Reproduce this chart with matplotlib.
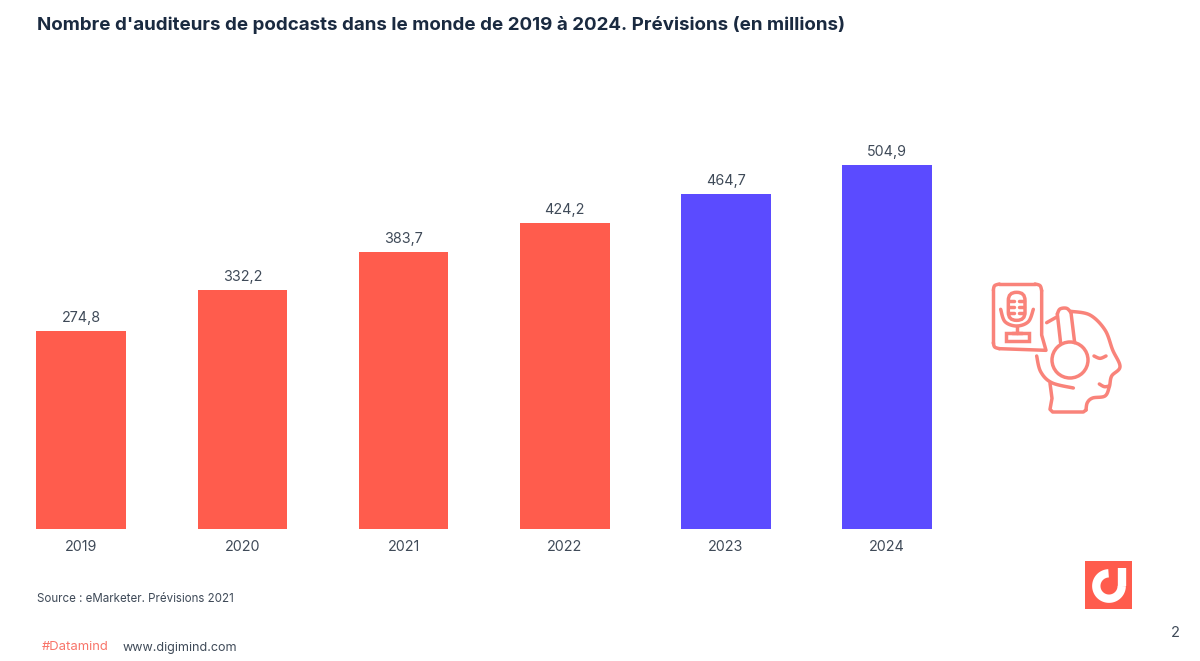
import numpy as np
import matplotlib
matplotlib.use("Agg")
import matplotlib.pyplot as plt
from matplotlib.patches import Circle, FancyBboxPatch, Rectangle

years = ["2019", "2020", "2021", "2022", "2023", "2024"]
values = [274.8, 332.2, 383.7, 424.2, 464.7, 504.9]
labels = ["274,8", "332,2", "383,7", "424,2", "464,7", "504,9"]
colors = ["#FF5C4D"] * 4 + ["#5B4BFF"] * 2
TITLE = "Nombre d'auditeurs de podcasts dans le monde de 2019 à 2024. Prévisions (en millions)"
SOURCE = "Source : eMarketer. Prévisions 2021"

W, H = 1200, 661
DARK = "#1A2A40"
GREY = "#3F4A58"
plt.rcParams["font.family"] = ["Inter", "DejaVu Sans"]
fig = plt.figure(figsize=(W / 100, H / 100), dpi=100, facecolor="white")

ax = fig.add_axes([0, 0, 1, 1])
px_per_unit = 364 / 504.9
STEP = 161.2
C0 = 81.2
ax.set_xlim(-C0 / STEP, (W - C0) / STEP)
ax.set_ylim(-(H - 529) / px_per_unit, 529 / px_per_unit)
ax.axis("off")
ax.bar(range(len(values)), values, width=89.6 / STEP, color=colors, linewidth=0)
for i, (v, l, y) in enumerate(zip(values, labels, years)):
    ax.annotate(l, (i, v), xytext=(0, 6), textcoords="offset pixels", ha="center", va="bottom",
                fontsize=10.3, color=GREY)
    ax.annotate(y, (i, 0), xytext=(0, -11), textcoords="offset pixels", ha="center", va="top",
                fontsize=10.3, color=GREY)

o = fig.add_axes([0, 0, 1, 1], facecolor="none")
o.set_xlim(0, W)
o.set_ylim(H, 0)
o.axis("off")
o.text(37, 25.5, TITLE, fontsize=13.5, fontweight="bold", color=DARK, va="center", ha="left")
o.text(37, 599.5, SOURCE, fontsize=8.3, color=GREY, va="center")
o.text(42, 647.5, "#Datamind", fontsize=9.4, color="#F8756A", va="center")
o.text(123, 647.5, "www.digimind.com", fontsize=9.0, color=GREY, va="center")
o.text(1175, 633, "2", fontsize=10.5, color=GREY, va="center", ha="center")

# logo
o.add_patch(Rectangle((1085, 561), 47, 48, color="#FF5C4D", lw=0))
t = np.radians(np.linspace(0, 268, 60))
o.plot(1109 + 12.7 * np.cos(t), 586 + 12.7 * np.sin(t), color="white", lw=6, solid_capstyle="butt")
o.plot([1121.7, 1121.7], [568, 586], color="white", lw=6, solid_capstyle="butt")

# icon, traced in zoom coordinates of the reference
IC = "#F9837A"
LW = 2.5
def smooth(pts, n=12):
    p = np.array(pts, float)
    q = np.vstack([p[0], p, p[-1]])
    out = []
    for i in range(1, len(q) - 2):
        for s in np.linspace(0, 1, n, endpoint=False):
            out.append(0.5 * (2 * q[i] + (q[i + 1] - q[i - 1]) * s
                              + (2 * q[i - 1] - 5 * q[i] + 4 * q[i + 1] - q[i + 2]) * s ** 2
                              + (3 * q[i] - q[i - 1] - 3 * q[i + 1] + q[i + 2]) * s ** 3))
    out.append(p[-1])
    return np.array(out)
def line(pts, lw=LW):
    a = np.array(pts, float)
    o.plot(970 + a[:, 0] / 3, 270 + a[:, 1] / 3, color=IC, lw=lw,
           solid_capstyle="round", solid_joinstyle="round")
def curve(pts, lw=LW):
    line(smooth(pts), lw)

# speech bubble
line([(88, 42), (195, 42)])
curve([(195, 42), (210, 47), (215, 62)])
line([(215, 62), (215, 195), (228, 241), (88, 236)])
curve([(88, 236), (74, 231), (70, 218)])
line([(70, 218), (70, 60)])
curve([(70, 60), (74, 47), (88, 42)])
# microphone
o.add_patch(FancyBboxPatch((970 + 115 / 3, 270 + 67 / 3), 50 / 3, 84 / 3,
            boxstyle="round,pad=0,rounding_size=8", fc="none", ec=IC, lw=LW))
for yy in (92, 110, 128):
    line([(117, yy), (132, yy)])
    line([(148, yy), (163, yy)])
curve([(92, 118), (105, 155), (140, 168), (175, 155), (190, 118)])
line([(140, 168), (140, 188)])
line([(125, 190), (155, 190)])
o.add_patch(Rectangle((970 + 108 / 3, 270 + 190 / 3), 68 / 3, 22 / 3, fc="none", ec=IC, lw=LW))
# headphones
o.add_patch(Circle((970 + 300 / 3, 270 + 270 / 3), 54 / 3, fc="none", ec=IC, lw=LW))
line([(272, 220), (262, 132)])
curve([(262, 132), (270, 117), (290, 115), (303, 128)])
line([(303, 128), (314, 218)])
# head
line([(230, 158), (262, 140)])
curve([(303, 124), (360, 135), (405, 180), (428, 240), (450, 290), (425, 318), (418, 350),
       (405, 378), (368, 384), (352, 398), (348, 420)])
line([(348, 420), (340, 426), (248, 426), (240, 418), (246, 385), (240, 340)])
curve([(200, 258), (212, 305), (245, 338), (310, 354)])
curve([(372, 258), (390, 265), (408, 258)])
curve([(388, 342), (403, 350), (418, 348)])

fig.savefig("out.png", dpi=100)
